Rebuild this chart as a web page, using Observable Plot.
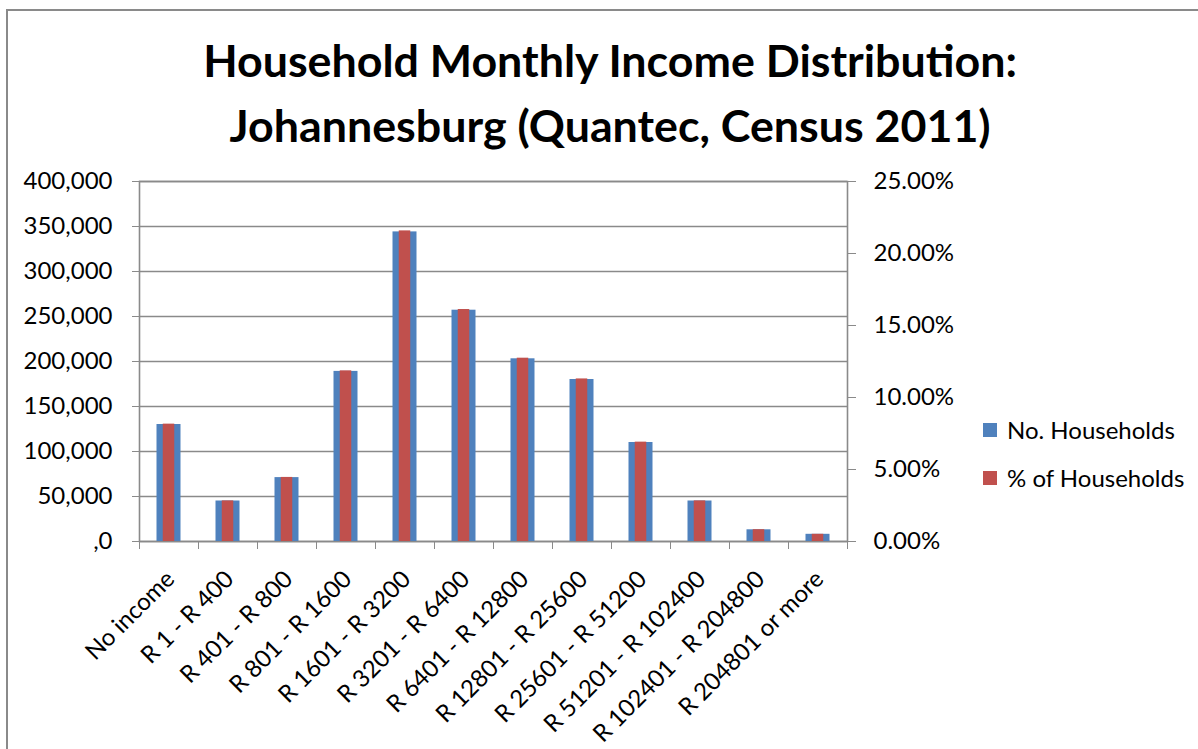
<!DOCTYPE html>
<html>
<head>
<meta charset="utf-8">
<script src="https://cdn.jsdelivr.net/npm/d3@7"></script>
<script src="https://cdn.jsdelivr.net/npm/@observablehq/plot@0.6"></script>
<style>
  html, body { margin: 0; padding: 0; background: #fff; width: 1198px; height: 749px; overflow: hidden; }
  #page { position: relative; width: 1198px; height: 749px; overflow: hidden; font-family: Lato, "Open Sans", sans-serif; color: #000; }
  #border { position: absolute; left: 6px; top: 9px; width: 1400px; height: 1000px; border: 2px solid #8a8a8a; box-sizing: border-box; }
  .tline { position: absolute; left: 0; width: 1220px; text-align: center; white-space: nowrap; font-weight: bold; font-size: 44px; line-height: 53px; height: 53px; }
  .tline span { display: inline-block; transform-origin: 50% 50%; }
  #chart { position: absolute; left: 0; top: 150px; }
  .leg { position: absolute; left: 983px; font-size: 24px; line-height: 28px; white-space: nowrap; }
  .leg i { position: absolute; left: 0; top: 7px; width: 14px; height: 14px; }
  .leg span { position: absolute; left: 24px; top: 0; }
</style>
</head>
<body>
<div id="page">
  <div id="border"></div>
  <div class="tline" id="t1" style="top:34px"><span>Household Monthly Income Distribution:</span></div>
  <div class="tline" id="t2" style="top:99px"><span>Johannesburg (Quantec, Census 2011)</span></div>
  <div id="chart"></div>
  <div class="leg" style="top:416px"><i style="background:#4F81BD"></i><span>No. Households</span></div>
  <div class="leg" style="top:464px"><i style="background:#C0504D"></i><span>% of Households</span></div>
</div>
<script>
// ---- data ----
const categories = [
  "No income", "R 1 - R 400", "R 401 - R 800", "R 801 - R 1600",
  "R 1601 - R 3200", "R 3201 - R 6400", "R 6401 - R 12800", "R 12801 - R 25600",
  "R 25601 - R 51200", "R 51201 - R 102400", "R 102401 - R 204800", "R 204801 or more"
];
const households = [130000, 45000, 71000, 189000, 344000, 257000, 203000, 180000, 110000, 45000, 13000, 8000];
const pctHouseholds = [8.15, 2.82, 4.45, 11.85, 21.57, 16.11, 12.73, 11.29, 6.90, 2.82, 0.82, 0.50];
const leftTicks = [0, 50000, 100000, 150000, 200000, 250000, 300000, 350000, 400000];
const rightTicks = [0, 5, 10, 15, 20, 25];

const leftMax = 400000, rightMax = 25;
const perPct = leftMax / rightMax; // dual-axis conversion

const data = categories.map((c, i) => ({cat: c, n: households[i], pct: pctHouseholds[i]}));

const W = 1198, H = 599;
const mL = 139, mR = 351, mT = 31, mB = 208;
const step = (W - mL - mR) / categories.length;
const blueW = 24, redW = 11.5;
const gray = "#8a8a8a";

const chart = Plot.plot({
  width: W, height: H,
  marginLeft: mL, marginRight: mR, marginTop: mT, marginBottom: mB,
  style: {background: "transparent", color: "#000", fontFamily: "Lato, 'Open Sans', sans-serif"},
  x: {type: "band", domain: categories, padding: 0, label: null},
  y: {domain: [0, leftMax], label: null},
  marks: [
    Plot.gridY(leftTicks, {stroke: gray, strokeOpacity: 1, strokeWidth: 1.6}),
    Plot.frame({stroke: gray, strokeWidth: 1.6}),
    Plot.barY(data, {x: "cat", y: "n", fill: "#4F81BD", insetLeft: (step - blueW) / 2, insetRight: (step - blueW) / 2}),
    Plot.barY(data, {x: "cat", y: d => d.pct * perPct, fill: "#C0504D", insetLeft: (step - redW) / 2, insetRight: (step - redW) / 2}),
    Plot.axisY(leftTicks, {anchor: "left", label: null, tickSize: 7, tickPadding: 20, fontSize: 24, stroke: gray,
      tickFormat: d => d === 0 ? ",0" : d3.format(",")(d)}),
    Plot.axisY(rightTicks.map(p => p * perPct), {anchor: "right", label: null, tickSize: 8, tickPadding: 18, fontSize: 24, stroke: gray,
      tickFormat: d => (d / perPct).toFixed(2) + "%"}),
    Plot.axisX(categories, {anchor: "bottom", label: null, tickSize: 8, stroke: gray, tickFormat: () => "", dx: -step / 2}),
    Plot.axisX(categories.slice(-1), {anchor: "bottom", label: null, tickSize: 8, stroke: gray, tickFormat: () => "", dx: step / 2}),
    Plot.text(categories, {x: d => d, frameAnchor: "bottom", rotate: -45, textAnchor: "end", lineAnchor: "top",
      dx: -5, dy: 27, fontSize: 24, fill: "#000"})
  ]
});
document.getElementById("chart").appendChild(chart);

// fit title width to reference proportions
const cv = document.createElement("canvas").getContext("2d");
cv.font = "bold 44px Lato";
const w1 = cv.measureText("Household Monthly Income Distribution:").width;
const s = 815 / w1;
document.querySelectorAll(".tline span").forEach(sp => sp.style.transform = `scaleX(${s})`);
</script>
</body>
</html>
